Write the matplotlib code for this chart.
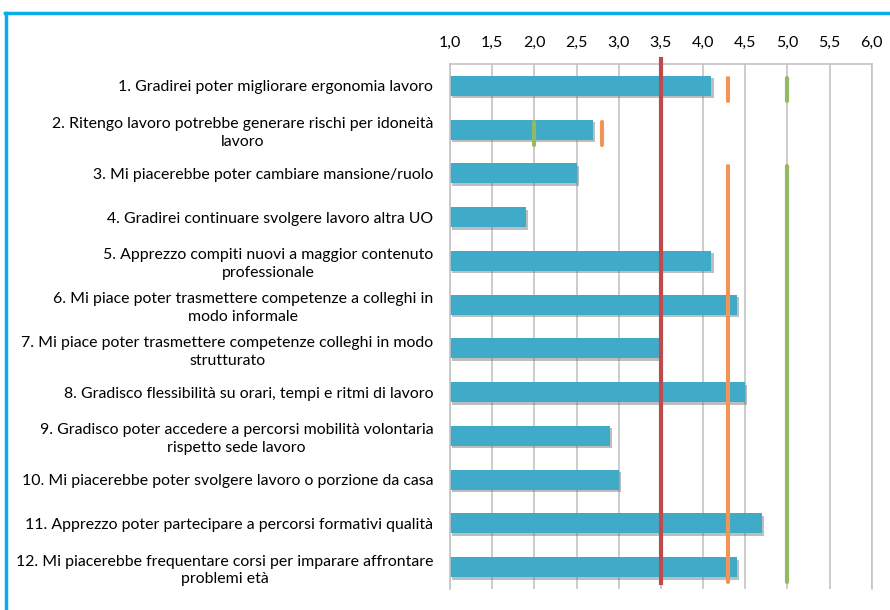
import numpy as np
import matplotlib
matplotlib.use('Agg')
import matplotlib.pyplot as plt
import matplotlib.patheffects as pe
from matplotlib.lines import Line2D

plt.rcParams['font.family'] = ['Lato', 'DejaVu Sans']

# Domande del questionario (ordine dall'alto in basso)
etichette = [
    '1. Gradirei poter migliorare ergonomia lavoro',
    '2. Ritengo lavoro potrebbe generare rischi per idoneità\nlavoro',
    '3. Mi piacerebbe poter cambiare mansione/ruolo',
    '4. Gradirei continuare svolgere lavoro altra UO',
    '5. Apprezzo compiti nuovi a maggior contenuto\nprofessionale',
    '6. Mi piace poter trasmettere competenze a colleghi in\nmodo informale',
    '7. Mi piace poter trasmettere competenze colleghi in modo\nstrutturato',
    '8. Gradisco flessibilità su orari, tempi e ritmi di lavoro',
    '9. Gradisco poter accedere a percorsi mobilità volontaria\nrispetto sede lavoro',
    '10. Mi piacerebbe poter svolgere lavoro o porzione da casa',
    '11. Apprezzo poter partecipare a percorsi formativi qualità',
    '12. Mi piacerebbe frequentare corsi per imparare affrontare\nproblemi età',
]
medie = [4.1, 2.7, 2.5, 1.9, 4.1, 4.4, 3.5, 4.5, 2.9, 3.0, 4.7, 4.4]
serie_arancio = [4.3, 2.8, 4.3, 4.3, 4.3, 4.3, 4.3, 4.3, 4.3, 4.3, 4.3, 4.3]
serie_verde = [5.0, 2.0, 5.0, 5.0, 5.0, 5.0, 5.0, 5.0, 5.0, 5.0, 5.0, 5.0]
soglia = 3.5
tick_valori = [1.0, 1.5, 2.0, 2.5, 3.0, 3.5, 4.0, 4.5, 5.0, 5.5, 6.0]

x_min, x_max = 1.0, 6.0
col_barre = '#3FABC8'
col_arancio = '#F0955A'
col_verde = '#93BA62'
col_rosso = '#BE4B4B'
col_griglia = '#C4C4C4'

W, H = 890, 610
fig = plt.figure(figsize=(W / 100, H / 100), dpi=100)
ax = fig.add_axes([450 / W, 1 - 589 / H, (871.7 - 450) / W, (589 - 64) / H])

y = np.arange(len(etichette))
ax.barh(y, np.array(medie) - x_min, left=x_min, height=0.46, color=col_barre, zorder=2,
        path_effects=[pe.SimplePatchShadow(offset=(1.5, -1.8), shadow_rgbFace='#707070', alpha=0.45),
                      pe.Normal()])


# segmenti verticali: valori uguali consecutivi formano un'unica linea
def disegna_segmenti(valori, colore):
    i = 0
    while i < len(valori):
        j = i
        while j + 1 < len(valori) and valori[j + 1] == valori[i]:
            j += 1
        ax.plot([valori[i], valori[i]], [y[i] - 0.17, y[j] + 0.34], color=colore, lw=3,
                solid_capstyle='round', zorder=3)
        i = j + 1


disegna_segmenti(serie_arancio, col_arancio)
disegna_segmenti(serie_verde, col_verde)

# linea di riferimento
ax.plot([soglia, soglia], [y[0] - 0.62, y[-1] + 0.37], color=col_rosso, lw=3, zorder=4, clip_on=False)

ax.set_xlim(x_min, x_max)
ax.set_ylim(len(etichette) - 0.5, -0.5)
ax.xaxis.tick_top()
ax.set_xticks(tick_valori)
ax.set_xticklabels([f'{v:.1f}'.replace('.', ',') for v in tick_valori], fontsize=11.5)
ax.set_yticks(y)
ax.set_yticklabels(etichette, fontsize=11.4, multialignment='center', linespacing=1.35)
ax.tick_params(axis='x', length=0, pad=10)
ax.tick_params(axis='y', length=0, pad=12)
ax.grid(axis='x', color=col_griglia, lw=1.2, zorder=1)
ax.set_axisbelow(True)
for lato in ['top', 'left', 'right']:
    ax.spines[lato].set_color(col_griglia)
    ax.spines[lato].set_linewidth(1.2)
ax.spines['bottom'].set_visible(False)

# cornice azzurra
fig.add_artist(Line2D([5 / W, 1], [1 - 12.5 / H, 1 - 12.5 / H], color='#0AADE8', lw=2.5,
                      transform=fig.transFigure))
fig.add_artist(Line2D([6 / W, 6 / W], [1 - 12.5 / H, 0], color='#0AADE8', lw=2.5,
                      transform=fig.transFigure))

fig.savefig('out.png', dpi=100, facecolor='white')
